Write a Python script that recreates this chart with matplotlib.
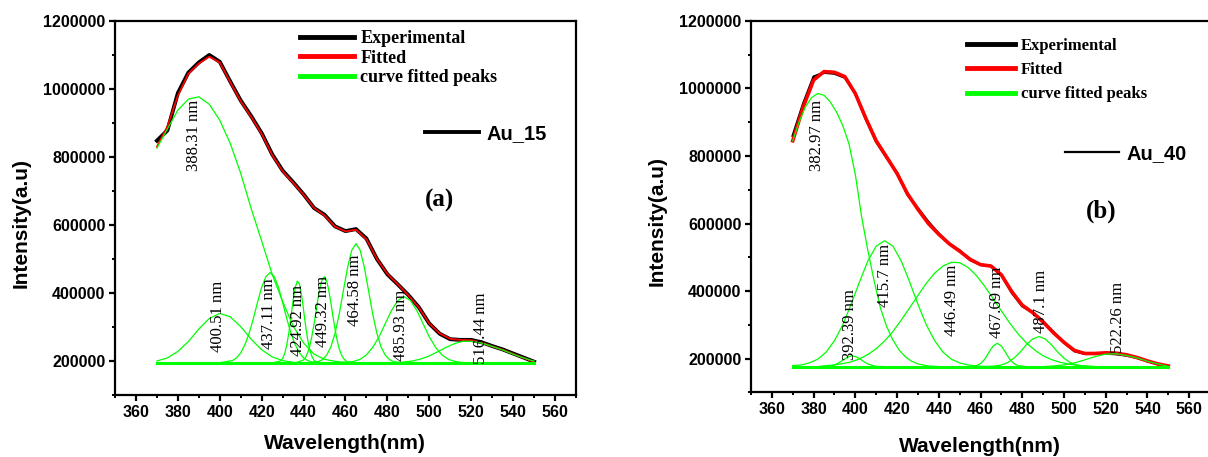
import numpy as np
import matplotlib
matplotlib.use("Agg")
import matplotlib.pyplot as plt
from matplotlib.lines import Line2D
from matplotlib.ticker import MultipleLocator, StrMethodFormatter
from matplotlib.font_manager import FontProperties

plt.rcParams['font.family'] = ['Liberation Sans', 'DejaVu Sans']
plt.rcParams['font.weight'] = 'bold'

# ---------------- data (intensities in thousands) ----------------
wl = list(range(370, 551, 5))

# panel (a) Au_15
a_exp = [848, 878, 988, 1048, 1078, 1100, 1080, 1022, 966, 920, 870, 808, 760,
         726, 690, 650, 630, 596, 582, 588, 560, 500, 455, 425, 394, 358, 310,
         280, 264, 262, 262, 255, 244, 234, 222, 210, 198]
a_fit = [830, 890, 980, 1045, 1075, 1095, 1078, 1020, 964, 918, 868, 806, 758,
         724, 689, 650, 628, 595, 581, 586, 558, 500, 456, 425, 393, 357, 310,
         281, 265, 262, 261, 254, 243, 233, 221, 209, 197]
a_base = 194

a_pk1_wl = [370, 375, 380, 385, 390, 395, 400, 405, 410, 415, 420, 425, 430, 435,
            440, 445, 450, 455, 460, 470]
a_pk1_int = [826, 882, 938, 970, 977, 955, 908, 840, 752, 648, 553, 455, 375, 303,
             253, 220, 205, 199, 196, 194]
a_pk2_wl = [370, 375, 380, 385, 390, 395, 400, 405, 410, 415, 420, 425, 430, 435, 440]
a_pk2_int = [200, 209, 228, 257, 294, 325, 340, 330, 301, 264, 233, 212, 201, 196, 194]
a_pk3_wl = [400, 406, 408, 410, 412, 414, 416, 418, 420, 422, 424, 426, 428, 430,
            432, 434, 436, 438, 440, 442, 444, 450]
a_pk3_int = [195, 201, 209, 224, 248, 281, 324, 372, 417, 448, 460, 448, 417, 372,
             324, 281, 248, 224, 209, 201, 197, 194]
a_pk4_wl = [425, 429, 430, 431, 432, 433, 434, 435, 436, 437, 438, 439, 440, 441,
            442, 443, 444, 445, 446, 450]
a_pk4_int = [194, 200, 208, 222, 248, 284, 330, 378, 416, 435, 427, 395, 350, 302,
             261, 231, 213, 202, 197, 194]
a_pk5_wl = [436, 440, 441, 442, 443, 444, 445, 446, 447, 448, 449, 450, 451, 452,
            453, 454, 455, 456, 457, 458, 459, 460, 461, 465]
a_pk5_int = [194, 203, 211, 225, 245, 274, 309, 348, 388, 421, 442, 448, 436, 409,
             372, 332, 294, 261, 236, 219, 208, 201, 197, 194]
a_pk6_wl = [443, 447, 449, 451, 453, 455, 457, 459, 461, 463, 465, 467, 469, 471,
            473, 475, 477, 479, 481, 483, 487]
a_pk6_int = [194, 198, 204, 217, 241, 281, 338, 407, 475, 526, 545, 526, 475, 407,
             338, 281, 241, 217, 204, 198, 194]
a_pk7_wl = [458, 461, 464, 467, 470, 473, 476, 479, 482, 485, 488, 491, 494, 497,
            500, 503, 506, 509, 512, 515, 520]
a_pk7_int = [194, 196, 199, 205, 218, 240, 271, 310, 349, 378, 389, 378, 349, 310,
             271, 240, 218, 205, 199, 196, 194]
a_pk8_wl = [480, 488, 492, 496, 500, 504, 508, 512, 516, 520, 524, 528, 532, 536,
            540, 544, 548, 550]
a_pk8_int = [194, 197, 200, 206, 215, 227, 240, 251, 258, 258, 254, 247, 239, 230,
             220, 211, 203, 200]

a_lab_text = ["388.31 nm", "400.51 nm", "437.11 nm", "424.92 nm", "449.32 nm",
              "464.58 nm", "485.93 nm", "516.44 nm"]
a_lab_wl = [387.6, 399.0, 423.7, 437.2, 449.1, 464.5, 486.5, 524.6]
a_lab_int = [865, 330, 340, 320, 345, 408, 306, 296]

# panel (b) Au_40
b_exp = [860, 955, 1035, 1047, 1044, 1032, 985, 910, 842, 795, 750, 685, 645,
         605, 570, 540, 520, 492, 478, 474, 447, 395, 355, 337, 310, 278, 247,
         222, 214, 214, 215, 213, 209, 202, 192, 183, 177]
b_fit = [845, 945, 1025, 1050, 1048, 1035, 985, 912, 845, 797, 748, 688, 642,
         600, 568, 540, 518, 494, 478, 474, 448, 398, 358, 336, 308, 276, 248,
         224, 215, 215, 217, 216, 211, 203, 193, 184, 178]
b_base = 176

b_pk1_wl = [370, 373, 376, 379, 382, 385, 388, 391, 394, 397, 400, 403, 406, 409,
            412, 415, 418, 421, 424, 427, 430, 435, 440]
b_pk1_int = [845, 900, 945, 973, 985, 980, 960, 930, 890, 835, 745, 620, 520, 430,
             350, 295, 255, 225, 205, 192, 184, 178, 176]
b_pk2_wl = [384, 388, 390, 392, 394, 396, 398, 400, 402, 404, 406, 408, 410, 414]
b_pk2_int = [176, 178, 181, 187, 195, 203, 208, 206, 200, 191, 184, 180, 177, 176]
b_pk3_wl = [370, 374, 378, 382, 386, 390, 394, 398, 402, 406, 410, 414, 418, 422,
            426, 430, 434, 438, 442, 446, 450, 454, 458, 464]
b_pk3_int = [179, 181, 187, 198, 219, 253, 300, 361, 427, 489, 533, 549, 533, 489,
             427, 361, 300, 253, 219, 198, 187, 181, 178, 176]
b_pk4_wl = [382, 386, 390, 394, 398, 402, 406, 410, 414, 418, 422, 426, 430, 434,
            438, 442, 446, 450, 454, 458, 462, 466, 470, 474, 478, 482, 486, 490,
            494, 498, 502, 506, 510, 516]
b_pk4_int = [176, 179, 181, 185, 190, 199, 212, 229, 252, 280, 314, 350, 387, 423,
             453, 474, 485, 484, 470, 446, 414, 378, 341, 305, 273, 246, 225, 208,
             197, 189, 184, 180, 178, 176]
b_pk5_wl = [454, 458, 460, 462, 464, 466, 468, 470, 472, 474, 476, 478, 482]
b_pk5_int = [176, 179, 185, 198, 218, 237, 245, 237, 218, 198, 185, 179, 176]
b_pk6_wl = [462, 467, 470, 473, 476, 479, 482, 485, 488, 491, 494, 497, 500, 503,
            506, 509, 514]
b_pk6_int = [176, 178, 181, 188, 201, 219, 241, 258, 265, 258, 241, 219, 201, 188,
             181, 178, 176]
b_pk7_wl = [490, 495, 500, 505, 510, 515, 520, 525, 530, 535, 540, 545, 550]
b_pk7_int = [176, 178, 181, 187, 196, 206, 213, 214, 209, 202, 192, 184, 177]

b_lab_text = ["382.97 nm", "392.39 nm", "415.7 nm", "446.49 nm", "467.69 nm",
              "487.1 nm", "522.26 nm"]
b_lab_wl = [381.5, 397.5, 414.3, 446.4, 468.0, 488.8, 525.7]
b_lab_int = [860, 302, 445, 371, 366, 368, 321]

a_peaks = [(a_pk1_wl, a_pk1_int), (a_pk2_wl, a_pk2_int), (a_pk3_wl, a_pk3_int),
           (a_pk4_wl, a_pk4_int), (a_pk5_wl, a_pk5_int), (a_pk6_wl, a_pk6_int),
           (a_pk7_wl, a_pk7_int), (a_pk8_wl, a_pk8_int)]
b_peaks = [(b_pk1_wl, b_pk1_int), (b_pk2_wl, b_pk2_int), (b_pk3_wl, b_pk3_int),
           (b_pk4_wl, b_pk4_int), (b_pk5_wl, b_pk5_int), (b_pk6_wl, b_pk6_int),
           (b_pk7_wl, b_pk7_int)]

GREEN = '#00ff00'
K = 1000.0


def style_axes(ax):
    ax.set_xlim(350, 570)
    ax.set_ylim(100000, 1200000)
    ax.set_xticks(range(360, 561, 20))
    ax.xaxis.set_minor_locator(MultipleLocator(10))
    ax.set_yticks(range(200000, 1200001, 200000))
    ax.yaxis.set_minor_locator(MultipleLocator(100000))
    ax.yaxis.set_major_formatter(StrMethodFormatter('{x:.0f}'))
    for s in ax.spines.values():
        s.set_linewidth(1.6)
    ax.tick_params(which='major', direction='out', length=4, width=1.6,
                   labelsize=11.5, pad=3)
    ax.tick_params(which='minor', direction='out', length=2.5, width=1.4)
    ax.set_xlabel('Wavelength(nm)', fontsize=15, fontweight='bold')
    ax.set_ylabel('Intensity(a.u)', fontsize=15, fontweight='bold')


def draw_panel(ax, exp, fit, peaks, base, lab_text, lab_wl, lab_int,
               lw_exp, lw_fit):
    ax.plot(wl, np.array(exp) * K, color='black', lw=lw_exp, zorder=3)
    ax.plot(wl, np.array(fit) * K, color='red', lw=lw_fit, zorder=4)
    for x, y in peaks:
        ax.plot(x, np.array(y) * K, color=GREEN, lw=0.9, zorder=5)
    ax.plot([wl[0], wl[-1]], [base * K, base * K], color=GREEN, lw=2.2, zorder=5)
    for t, x, y in zip(lab_text, lab_wl, lab_int):
        ax.text(x, y * K, t, rotation=90, ha='center', va='center',
                fontsize=12, fontweight='normal',
                family=['Liberation Serif', 'DejaVu Serif'], zorder=6)


fig = plt.figure(figsize=(12.08, 4.57), dpi=100)
ax1 = fig.add_axes([0.0952, 0.1357, 0.3816, 0.8184])
ax2 = fig.add_axes([0.6217, 0.1416, 0.38, 0.8125])

draw_panel(ax1, a_exp, a_fit, a_peaks, a_base, a_lab_text, a_lab_wl, a_lab_int,
           2.8, 1.3)
draw_panel(ax2, b_exp, b_fit, b_peaks, b_base, b_lab_text, b_lab_wl, b_lab_int,
           1.8, 2.6)

for ax in (ax1, ax2):
    style_axes(ax)
ax1.yaxis.set_label_coords(-0.184, 0.46)
ax2.yaxis.set_label_coords(-0.183, 0.461)
ax1.xaxis.set_label_coords(0.498, -0.104)
ax2.xaxis.set_label_coords(0.499, -0.12)

serif_bold = ['Liberation Serif', 'DejaVu Serif']


def add_legends(ax, size, anchor, hlen, lspace, name, name_anchor, name_lw):
    handles = [Line2D([], [], color='black', lw=3.5),
               Line2D([], [], color='red', lw=3.5),
               Line2D([], [], color=GREEN, lw=3.5)]
    leg = ax.legend(handles, ['Experimental', 'Fitted', 'curve fitted peaks'],
                    loc='upper left', bbox_to_anchor=anchor, frameon=False,
                    prop=FontProperties(family=serif_bold, weight='bold', size=size),
                    handlelength=hlen, handletextpad=0.35, labelspacing=lspace,
                    borderpad=0, borderaxespad=0)
    ax.add_artist(leg)
    ax.legend([Line2D([], [], color='black', lw=name_lw)], [name],
              loc='center left', bbox_to_anchor=name_anchor, frameon=False,
              prop=FontProperties(family=['Liberation Sans'], weight='bold', size=14.5),
              handlelength=2.7, handletextpad=0.35, borderpad=0, borderaxespad=0)


add_legends(ax1, 13, (0.401, 0.976), 3.0, 0.15, 'Au_15', (0.672, 0.698), 2.8)
add_legends(ax2, 12, (0.4706, 0.955), 2.9, 0.5, 'Au_40', (0.684, 0.644), 1.6)

ax1.text(0.703, 0.519, '(a)', transform=ax1.transAxes, ha='center', va='center',
         fontsize=18, fontweight='bold', family=serif_bold)
ax2.text(0.7625, 0.488, '(b)', transform=ax2.transAxes, ha='center', va='center',
         fontsize=18, fontweight='bold', family=serif_bold)

fig.savefig('out.png', dpi=100)
